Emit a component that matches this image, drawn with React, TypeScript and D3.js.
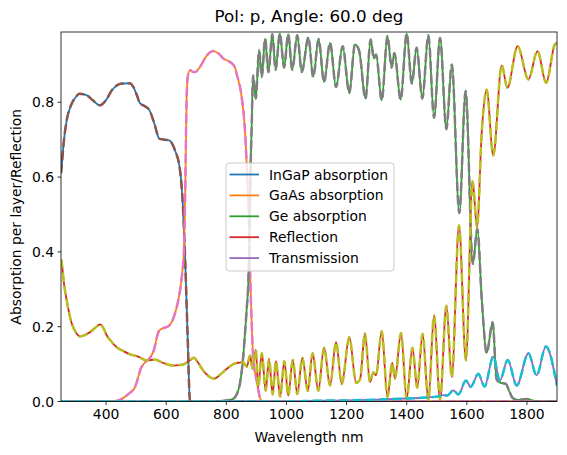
import * as d3 from "d3";

// wavelength (nm), value pairs
const ingap: [number, number][] = [
  [250, 0.61], [252, 0.627], [260, 0.7], [269, 0.752], [286, 0.797], [300, 0.815],
  [311, 0.823], [335, 0.819], [355, 0.806], [380, 0.792], [400, 0.806], [419, 0.832],
  [440, 0.847], [452, 0.85], [479, 0.851], [490, 0.842], [502, 0.82], [513, 0.797],
  [528, 0.79], [544, 0.779], [560, 0.745], [577, 0.703], [595, 0.7], [610, 0.698],
  [629, 0.672], [646, 0.618], [655, 0.53], [662, 0.404], [671, 0.181], [679, 0.003],
  [685, 0], [1900, 0],
];

const gaas: [number, number][] = [
  [250, 0], [420, 0], [430, 0.001], [450, 0.006], [468, 0.016], [482, 0.025],
  [496, 0.038], [505, 0.06], [515, 0.087], [530, 0.105], [546, 0.117], [560, 0.14],
  [570, 0.175], [577, 0.19], [590, 0.196], [607, 0.201], [620, 0.215], [629, 0.235],
  [640, 0.27], [646, 0.297], [654, 0.35], [659, 0.404], [663, 0.55], [668, 0.814],
  [672, 0.87], [679, 0.886], [690, 0.881], [696, 0.881], [712, 0.894], [735, 0.925],
  [757, 0.937], [775, 0.93], [790, 0.917], [812, 0.908], [829, 0.893], [834, 0.877],
  [851, 0.814], [862, 0.725], [870, 0.591], [876, 0.457], [879, 0.35], [884, 0.217],
  [890, 0.11], [901, 0.056], [912, 0.01], [920, 0], [1900, 0],
];

const ge: [number, number][] = [
  [250, 0], [750, 0], [800, 0.003], [823, 0.007], [835, 0.02], [845, 0.047],
  [855, 0.11], [862, 0.181], [868, 0.25], [873, 0.315], [876, 0.404], [881, 0.636],
  [884, 0.725], [889, 0.872], [898, 0.81], [909, 0.939], [918, 0.868], [929, 0.97],
  [940, 0.881], [953, 0.982], [964, 0.887], [978, 0.984], [992, 0.893], [1006, 0.982],
  [1019, 0.887], [1036, 0.979], [1051, 0.881], [1073, 0.973], [1089, 0.868],
  [1107, 0.969], [1125, 0.854], [1145, 0.959], [1165, 0.841], [1187, 0.95],
  [1209, 0.825], [1228, 0.955], [1242, 0.937], [1263, 0.81], [1280, 0.968],
  [1291, 0.917], [1298, 0.928], [1317, 0.805], [1336, 0.977], [1350, 0.893],
  [1359, 0.932], [1380, 0.807], [1400, 0.984], [1417, 0.85], [1433, 0.946],
  [1452, 0.81], [1472, 0.979], [1491, 0.759], [1511, 0.972], [1532, 0.728],
  [1550, 0.901], [1575, 0.504], [1596, 0.83], [1620, 0.368], [1635, 0.462],
  [1650, 0.27], [1666, 0.13], [1686, 0.212], [1699, 0.06], [1712, 0.05],
  [1730, 0.047], [1740, 0.03], [1752, 0.01], [1770, 0.004], [1799, 0.007],
  [1830, 0], [1900, 0],
];

const reflection: [number, number][] = [
  [250, 0.38], [252, 0.373], [260, 0.315], [269, 0.27], [286, 0.208], [300, 0.184],
  [313, 0.174], [330, 0.178], [346, 0.185], [365, 0.198], [380, 0.206], [390, 0.198],
  [402, 0.177], [420, 0.158], [435, 0.145], [455, 0.136], [480, 0.126], [507, 0.12],
  [535, 0.11], [563, 0.112], [590, 0.103], [623, 0.096], [657, 0.099], [675, 0.108],
  [692, 0.117], [705, 0.105], [723, 0.083], [759, 0.061], [780, 0.072], [801, 0.087],
  [829, 0.102], [845, 0.104], [856, 0.105], [868, 0.093], [879, 0.123], [887, 0.088],
  [898, 0.138], [906, 0.038], [918, 0.129], [931, 0.029], [942, 0.114], [954, 0.019],
  [965, 0.108], [979, 0.013], [993, 0.108], [1006, 0.016], [1021, 0.111], [1036, 0.02],
  [1053, 0.117], [1071, 0.028], [1087, 0.129], [1106, 0.029], [1125, 0.144],
  [1145, 0.043], [1165, 0.159], [1184, 0.047], [1209, 0.172], [1232, 0.05],
  [1245, 0.06], [1261, 0.182], [1278, 0.052], [1289, 0.078], [1298, 0.07],
  [1317, 0.188], [1336, 0.012], [1352, 0.103], [1361, 0.061], [1381, 0.183],
  [1400, 0.007], [1419, 0.144], [1435, 0.037], [1453, 0.181], [1472, 0.003],
  [1491, 0.23], [1511, 0.005], [1532, 0.256], [1550, 0.065], [1574, 0.471],
  [1597, 0.11], [1619, 0.589], [1634, 0.466], [1650, 0.725], [1666, 0.834],
  [1688, 0.658], [1716, 0.899], [1735, 0.839], [1769, 0.95], [1805, 0.861],
  [1835, 0.937], [1864, 0.852], [1893, 0.955], [1900, 0.958],
];

const transmission: [number, number][] = [
  [250, 0], [1000, 0], [1100, 0.002], [1200, 0.003], [1300, 0.005], [1400, 0.008],
  [1450, 0.01], [1500, 0.013], [1520, 0.017], [1535, 0.016], [1555, 0.03],
  [1572, 0.019], [1597, 0.056], [1613, 0.039], [1638, 0.074], [1659, 0.04],
  [1688, 0.12], [1710, 0.056], [1736, 0.111], [1766, 0.043], [1805, 0.129],
  [1832, 0.07], [1863, 0.147], [1900, 0.042],
];

const labels = ["InGaP absorption", "GaAs absorption", "Ge absorption", "Reflection", "Transmission"];
const mainColors = ["#1f77b4", "#ff7f0e", "#2ca02c", "#d62728", "#9467bd"];
const overColors = ["#8c564b", "#e377c2", "#7f7f7f", "#bcbd22", "#17becf"];
const xTicks = [400, 600, 800, 1000, 1200, 1400, 1600, 1800];
const yTicks = [0, 0.2, 0.4, 0.6, 0.8];

const W = 567;
const H = 455;
const left = 61, right = 557, top = 32, bottom = 401.5;
const font = "DejaVu Sans, sans-serif";

export default function App() {
  const series = [ingap, gaas, ge, reflection, transmission];
  const x = d3.scaleLinear().domain([250, 1900]).range([left, right]);
  const y = d3.scaleLinear().domain([0, 0.988]).range([bottom, top]);
  const line = d3
    .line<[number, number]>()
    .x((d) => x(d[0]))
    .y((d) => y(d[1]))
    .curve(d3.curveMonotoneX);

  const legX = 226, legY = 163;
  const rowH = 20.9;

  return (
    <svg width={W} height={H} style={{ position: "absolute", left: 0, top: 0, background: "#fff" }}>
      <defs>
        <clipPath id="plotArea">
          <rect x={left} y={top} width={right - left} height={bottom - top} />
        </clipPath>
      </defs>
      <rect x={0} y={0} width={W} height={H} fill="#fff" />

      <g clipPath="url(#plotArea)">
        {series.map((s, i) => (
          <path key={"m" + i} d={line(s) || ""} fill="none" stroke={mainColors[i]} strokeWidth={1.8} />
        ))}
        {series.map((s, i) => (
          <path
            key={"o" + i}
            d={line(s) || ""}
            fill="none"
            stroke={overColors[i]}
            strokeWidth={2.5}
            strokeDasharray="9.25 4"
          />
        ))}
      </g>

      {/* axes frame */}
      <rect x={left} y={top} width={right - left} height={bottom - top} fill="none" stroke="#000" strokeWidth={0.8} />

      {xTicks.map((t) => (
        <g key={"x" + t}>
          <line x1={x(t)} x2={x(t)} y1={bottom} y2={bottom + 3.5} stroke="#000" strokeWidth={0.8} />
          <text x={x(t)} y={bottom + 17.5} textAnchor="middle" fontFamily={font} fontSize={13.9} fill="#000">
            {t}
          </text>
        </g>
      ))}
      {yTicks.map((t) => (
        <g key={"y" + t}>
          <line x1={left - 3.5} x2={left} y1={y(t)} y2={y(t)} stroke="#000" strokeWidth={0.8} />
          <text x={left - 7} y={y(t) + 5} textAnchor="end" fontFamily={font} fontSize={13.9} fill="#000">
            {t.toFixed(1)}
          </text>
        </g>
      ))}

      <text x={(left + right) / 2} y={21.5} textAnchor="middle" fontFamily={font} fontSize={16.7} fill="#000">
        Pol: p, Angle: 60.0 deg
      </text>
      <text x={(left + right) / 2} y={442} textAnchor="middle" fontFamily={font} fontSize={13.9} fill="#000">
        Wavelength nm
      </text>
      <text
        transform={`translate(20.5, ${(top + bottom) / 2}) rotate(-90)`}
        textAnchor="middle"
        fontFamily={font}
        fontSize={13.9}
        fill="#000"
      >
        Absorption per layer/Reflection
      </text>

      {/* legend */}
      <rect
        x={legX}
        y={legY}
        width={168}
        height={108}
        rx={3}
        fill="#fff"
        fillOpacity={0.8}
        stroke="#cccccc"
        strokeWidth={1}
      />
      {labels.map((l, i) => (
        <g key={l}>
          <line
            x1={legX + 3.5}
            x2={legX + 33}
            y1={legY + 11.5 + i * rowH}
            y2={legY + 11.5 + i * rowH}
            stroke={mainColors[i]}
            strokeWidth={1.8}
          />
          <text x={legX + 43} y={legY + 16.5 + i * rowH} fontFamily={font} fontSize={13.9} fill="#000">
            {l}
          </text>
        </g>
      ))}
    </svg>
  );
}
